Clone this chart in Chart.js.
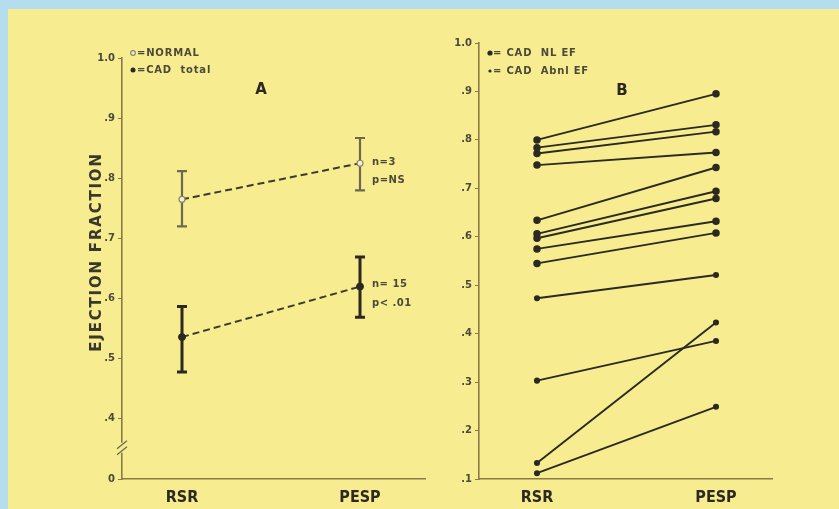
<!DOCTYPE html>
<html>
<head>
<meta charset="utf-8">
<script src="https://cdn.jsdelivr.net/npm/chart.js@4.4.1/dist/chart.umd.min.js"></script>
<style>
  html, body { margin: 0; padding: 0; }
  body { width: 839px; height: 509px; background: #b4deee; position: relative; overflow: hidden; }
  #paper { position: absolute; left: 8px; top: 9px; right: 0; bottom: 0; background: #f7ec90; }
  .panel { position: absolute; top: 0; height: 509px; }
  #wrapA { left: 0; width: 440px; }
  #wrapB { left: 440px; width: 399px; }
</style>
</head>
<body>
<div id="paper"></div>
<div class="panel" id="wrapA"><canvas id="chartA" width="440" height="509"></canvas></div>
<div class="panel" id="wrapB"><canvas id="chartB" width="399" height="509"></canvas></div>
<script>
// Conditions on the x axis
const conditions = ['RSR', 'PESP'];

// Panel A: group means with error-bar limits
const normalMean = [0.765, 0.825];
const normalLow  = [0.720, 0.780];
const normalHigh = [0.812, 0.867];
const cadMean = [0.536, 0.620];
const cadLow  = [0.478, 0.569];
const cadHigh = [0.587, 0.669];
const normalStats = ['n=3', 'p=NS'];
const cadStats = ['n= 15', 'p< .01'];

// Panel B: individual patients, RSR -> PESP
const nlRSR  = [0.800, 0.784, 0.772, 0.748, 0.634, 0.606, 0.597, 0.575, 0.545];
const nlPESP = [0.895, 0.831, 0.817, 0.774, 0.743, 0.694, 0.679, 0.632, 0.608];
const abnlRSR  = [0.473, 0.303, 0.133, 0.112];
const abnlPESP = [0.521, 0.385, 0.423, 0.249];

// Tick values and their printed labels (panel A axis is broken below .4)
const tickValuesA = [0.3, 0.4, 0.5, 0.6, 0.7, 0.8, 0.9, 1.0];
const tickLabelsA = ['0', '.4', '.5', '.6', '.7', '.8', '.9', '1.0'];
const tickValuesB = [0.1, 0.2, 0.3, 0.4, 0.5, 0.6, 0.7, 0.8, 0.9, 1.0];
const tickLabelsB = ['.1', '.2', '.3', '.4', '.5', '.6', '.7', '.8', '.9', '1.0'];

const INK = '#2b2920';
const AXIS = '#8a7a48';
const TICKTXT = '#4d493a';
const SANS = "'DejaVu Sans', sans-serif";
const COND = "'DejaVu Sans Condensed', 'Liberation Sans Narrow', 'DejaVu Sans', sans-serif";

function labelFor(values, labels) {
  return v => {
    const i = values.findIndex(t => Math.abs(t - v) < 1e-6);
    return i >= 0 ? labels[i] : '';
  };
}

function xScale(min, max) {
  return {
    type: 'linear', min, max,
    afterBuildTicks: s => { s.ticks = conditions.map((c, i) => ({ value: i + 1 })); },
    afterFit: s => { s.height = 30; },
    grid: { display: false, drawTicks: false },
    border: { display: true, color: AXIS, width: 1.6 },
    ticks: {
      padding: 9, color: INK,
      font: { family: COND, size: 16, weight: 'bold' },
      callback: v => conditions[Math.round(v) - 1] || ''
    }
  };
}

function yScale(min, max, values, labels, width) {
  return {
    type: 'linear', min, max,
    afterBuildTicks: s => { s.ticks = values.map(v => ({ value: v })); },
    afterFit: s => { s.width = width; },
    grid: { drawOnChartArea: false, drawTicks: true, tickLength: 4, color: AXIS, lineWidth: 1 },
    border: { display: true, color: AXIS, width: 1.6 },
    ticks: {
      padding: 3, color: TICKTXT,
      font: { family: SANS, size: 10, weight: 'bold' },
      callback: labelFor(values, labels)
    }
  };
}

function text(ctx, str, x, y, font, color, align, spacing) {
  ctx.save();
  ctx.font = font;
  ctx.fillStyle = color;
  ctx.textAlign = align || 'left';
  ctx.textBaseline = 'middle';
  ctx.letterSpacing = spacing || '0px';
  ctx.fillText(str, x, y);
  ctx.restore();
}

function dot(ctx, x, y, r, fill, stroke) {
  ctx.save();
  ctx.beginPath();
  ctx.arc(x, y, r, 0, Math.PI * 2);
  if (fill) { ctx.fillStyle = fill; ctx.fill(); }
  if (stroke) { ctx.strokeStyle = stroke; ctx.lineWidth = 1.2; ctx.stroke(); }
  ctx.restore();
}

// ---------- Panel A ----------
const errorBars = [
  { low: normalLow, high: normalHigh, color: '#6e6850', width: 2.2 },
  { low: cadLow, high: cadHigh, color: INK, width: 3 }
];

const panelADecor = {
  id: 'panelADecor',
  beforeDatasetsDraw(chart) {
    const { ctx, scales: { x, y } } = chart;
    errorBars.forEach(b => {
      conditions.forEach((c, i) => {
        const px = x.getPixelForValue(i + 1);
        const top = y.getPixelForValue(b.high[i]);
        const bot = y.getPixelForValue(b.low[i]);
        ctx.save();
        ctx.strokeStyle = b.color;
        ctx.lineWidth = b.width;
        ctx.beginPath();
        ctx.moveTo(px, top); ctx.lineTo(px, bot);
        ctx.moveTo(px - 5, top); ctx.lineTo(px + 5, top);
        ctx.moveTo(px - 5, bot); ctx.lineTo(px + 5, bot);
        ctx.stroke();
        ctx.restore();
      });
    });
  },
  afterDraw(chart) {
    const { ctx, chartArea: a, scales: { x, y } } = chart;
    const f10 = `bold 10px ${SANS}`;
    // group statistics beside the PESP means
    const sx = x.getPixelForValue(2) + 12;
    text(ctx, normalStats[0], sx, y.getPixelForValue(normalMean[1]) - 1, f10, TICKTXT, 'left', '0.5px');
    text(ctx, normalStats[1], sx, y.getPixelForValue(normalMean[1]) + 17, f10, TICKTXT, 'left', '0.5px');
    text(ctx, cadStats[0], sx, y.getPixelForValue(cadMean[1]) - 2, f10, TICKTXT, 'left', '0.5px');
    text(ctx, cadStats[1], sx, y.getPixelForValue(cadMean[1]) + 17, f10, TICKTXT, 'left', '0.5px');
    // key
    dot(ctx, a.left + 11, a.top - 5, 2.3, '#f4efd0', '#8a8468');
    text(ctx, '=NORMAL', a.left + 15, a.top - 5, f10, TICKTXT, 'left', '0.8px');
    dot(ctx, a.left + 11, a.top + 12, 2.5, INK, null);
    text(ctx, '=CAD  total', a.left + 15, a.top + 12, f10, TICKTXT, 'left', '0.8px');
    // panel letter
    text(ctx, 'A', a.left + 139, a.top + 32, `bold 15px ${SANS}`, INK, 'center');
    // axis title
    ctx.save();
    ctx.translate(a.left - 25, 252);
    ctx.rotate(-Math.PI / 2);
    text(ctx, 'EJECTION FRACTION', 0, 0, `bold 15px ${SANS}`, '#3a372b', 'center', '1.8px');
    ctx.restore();
    // break in the y axis
    const by = y.getPixelForValue(0.352);
    ctx.save();
    ctx.fillStyle = '#f7ec90';
    ctx.fillRect(a.left - 2, by - 5, 4, 10);
    ctx.strokeStyle = '#6e6850';
    ctx.lineWidth = 1.3;
    ctx.beginPath();
    ctx.moveTo(a.left - 5, by + 1); ctx.lineTo(a.left + 5, by - 7);
    ctx.moveTo(a.left - 5, by + 7); ctx.lineTo(a.left + 5, by - 1);
    ctx.stroke();
    ctx.restore();
  }
};

const toPoints = ys => ys.map((v, i) => ({ x: i + 1, y: v }));

new Chart(document.getElementById('chartA'), {
  type: 'scatter',
  data: {
    datasets: [
      {
        label: 'NORMAL', data: toPoints(normalMean), showLine: true,
        borderColor: '#3d3a2c', borderWidth: 2, borderDash: [7, 4],
        pointRadius: 3, pointBackgroundColor: '#f4efd0', pointBorderColor: '#8a8468', pointBorderWidth: 1.2
      },
      {
        label: 'CAD total', data: toPoints(cadMean), showLine: true,
        borderColor: '#3d3a2c', borderWidth: 2, borderDash: [7, 4],
        pointRadius: 3.5, pointBackgroundColor: INK, pointBorderColor: INK, pointBorderWidth: 1
      }
    ]
  },
  options: {
    responsive: false, animation: false, devicePixelRatio: 1,
    layout: { padding: { left: 0, right: 15, top: 58, bottom: 0 } },
    plugins: { legend: { display: false }, tooltip: { enabled: false } },
    scales: {
      x: xScale(1 - 60 / 178, 2 + 65 / 178),
      y: yScale(0.3, 1.0, tickValuesA, tickLabelsA, 122)
    }
  },
  plugins: [panelADecor]
});

// ---------- Panel B ----------
const patientSets = [];
nlRSR.forEach((v, i) => patientSets.push({
  data: [{ x: 1, y: v }, { x: 2, y: nlPESP[i] }], showLine: true,
  borderColor: INK, borderWidth: 1.9, pointRadius: 2.8,
  pointBackgroundColor: INK, pointBorderColor: INK
}));
abnlRSR.forEach((v, i) => patientSets.push({
  data: [{ x: 1, y: v }, { x: 2, y: abnlPESP[i] }], showLine: true,
  borderColor: INK, borderWidth: 1.9, pointRadius: 2.1,
  pointBackgroundColor: INK, pointBorderColor: INK
}));

const panelBDecor = {
  id: 'panelBDecor',
  afterDraw(chart) {
    const { ctx, chartArea: a } = chart;
    const f10 = `bold 10px ${SANS}`;
    dot(ctx, a.left + 11, a.top + 10, 2.6, INK, null);
    text(ctx, '= CAD  NL EF', a.left + 14, a.top + 10, f10, TICKTXT, 'left', '0.8px');
    dot(ctx, a.left + 11, a.top + 28, 1.6, INK, null);
    text(ctx, '= CAD  Abnl EF', a.left + 14, a.top + 28, f10, TICKTXT, 'left', '0.8px');
    text(ctx, 'B', a.left + 143, a.top + 48, `bold 15px ${SANS}`, INK, 'center');
  }
};

new Chart(document.getElementById('chartB'), {
  type: 'scatter',
  data: { datasets: patientSets },
  options: {
    responsive: false, animation: false, devicePixelRatio: 1,
    layout: { padding: { left: 0, right: 67, top: 43, bottom: 0 } },
    plugins: { legend: { display: false }, tooltip: { enabled: false } },
    scales: {
      x: xScale(1 - 58 / 179, 2 + 56 / 179),
      y: yScale(0.1, 1.0, tickValuesB, tickLabelsB, 39)
    }
  },
  plugins: [panelBDecor]
});
</script>
</body>
</html>
